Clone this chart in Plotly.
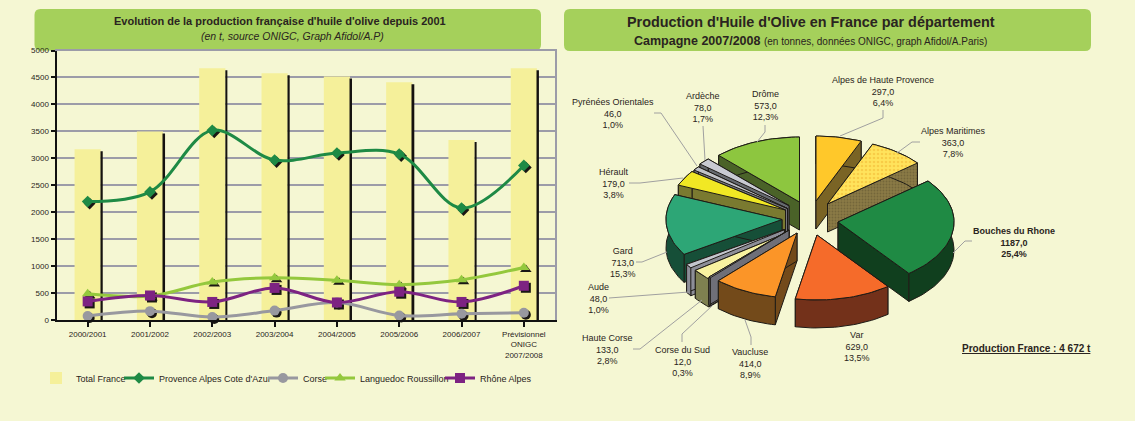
import math
import plotly.graph_objects as go

# ---------- data ----------
CATEGORIES = ["2000/2001", "2001/2002", "2002/2003", "2003/2004", "2004/2005", "2005/2006", "2006/2007",
              "Prévisionnel<br>ONIGC<br>2007/2008"]
TOTAL_FRANCE = [3170, 3500, 4670, 4580, 4520, 4410, 3340, 4670]
PACA = [2200, 2380, 3520, 2970, 3100, 3080, 2080, 2870]
CORSE = [80, 170, 60, 180, 330, 90, 120, 140]
LANGUEDOC = [490, 450, 710, 790, 740, 660, 750, 980]
RHONE_ALPES = [350, 460, 340, 600, 330, 530, 340, 640]

DEPTS = ["Alpes de Haute Provence", "Alpes Maritimes", "Bouches du Rhone", "Var", "Vaucluse", "Corse du Sud",
         "Haute Corse", "Aude", "Gard", "Hérault", "Pyrénées Orientales", "Ardèche", "Drôme"]
DEPT_VALUES = [297, 363, 1187, 629, 414, 12, 133, 48, 713, 179, 46, 78, 573]

# ---------- style / layout ----------
W, H = 1135, 421
BG = "#F5F7D3"
HEADER = "#A5D05B"
GRID = "#9C9CA8"
TXT = "#2A2420"
SANS = "Liberation Sans"

PLOT_L, PLOT_R, PLOT_T, PLOT_B = 56.5, 555, 50.5, 320.3
PX_X = (PLOT_R - PLOT_L) / 8
PX_Y = (PLOT_B - PLOT_T) / 5000
SX, SY = 2 / PX_X, 2 / PX_Y   # drop-shadow shift in data units

R, SQUASH, DEPTH = 116, 0.56, 28
TOP_COL = ["#FFC82A", "#FFE35C", "#1F8A44", "#F56B2A", "#FB9528", "#9A9AA5", "#F8F2A0", "#C4C6CE", "#2DA676",
           "#F1E824", "#C0C2C8", "#C8CAD2", "#8DC63F"]
WALL_COL = ["#7A6425", "#8A7A45", "#103F1E", "#73311A", "#734A1A", "#6F6F78", "#7E8050", "#8D8E98", "#164F38",
            "#7A7A30", "#77787E", "#666A70", "#4A6228"]
APEX = [(816, 201), (827.5, 204), (838, 222), (817, 235), (797, 233), (789, 230), (789, 232), (784.5, 229.5),
        (782, 219.5), (785.5, 210), (787.5, 208.5), (789, 205.6), (799.5, 202)]
DRAW_ORDER = [0, 1, 12, 11, 10, 9, 8, 7, 6, 5, 4, 3, 2]
LABEL_POS = [(883, 91), (953, 142), (1014, 242), (857, 346), (750, 363), (682, 361), (607, 349), (598, 298),
             (623, 262), (614, 183), (613, 113), (703, 107), (765, 105)]
LEADERS = [[(840, 136), (883, 118), (883, 110)], [(897, 153), (912, 142), (920, 142)],
           [(953, 253), (965, 241), (972, 241)], None, [(745, 320), (751, 337), (751, 345)],
           [(713, 305), (682, 334), (682, 342)], [(702, 300), (640, 349), (633, 349)],
           [(689, 292), (609, 298)], [(667, 252), (642, 262), (636, 262)],
           [(683, 178), (640, 183), (629, 183)], [(697, 166), (661, 113), (654, 113)],
           [(705, 160), (703, 126)], [(757, 142), (765, 132), (765, 125)]]

fig = go.Figure()
BX = dict(xaxis="x", yaxis="y")
SH = dict(xaxis="x2", yaxis="y2")
LN = dict(xaxis="x3", yaxis="y3")
XI = list(range(8))

# Bars
fig.add_trace(go.Bar(x=XI, y=TOTAL_FRANCE, width=0.42, marker=dict(color="#F5F09A", line_width=0),
                     name="Total France", legend="legend", **BX))
fig.add_trace(go.Bar(x=XI, y=TOTAL_FRANCE, width=0.032, offset=0.178, marker=dict(color="#15120F", line_width=0),
                     showlegend=False, hoverinfo="skip", **SH))

SERIES = [("Provence Alpes Cote d'Azur", PACA, "#1E8A45", "diamond", 9, "legend2"),
          ("Corse", CORSE, "#98989F", "circle", 10, "legend3"),
          ("Languedoc Roussillon", LANGUEDOC, "#94C83D", "triangle-up", 10, "legend4"),
          ("Rhône Alpes", RHONE_ALPES, "#7D2382", "square", 10, "legend5")]
for name, vals, col, sym, size, _ in SERIES:
    fig.add_trace(go.Scatter(x=XI, y=vals, mode="markers", marker=dict(symbol=sym, size=size, color="#1A1714"),
                             showlegend=False, hoverinfo="skip", cliponaxis=False, **SH))
for name, vals, col, sym, size, leg in SERIES:
    fig.add_trace(go.Scatter(x=XI, y=vals, mode="lines+markers", name=name, legend=leg, cliponaxis=False,
                             line=dict(color=col, width=3, shape="spline", smoothing=1.0),
                             marker=dict(symbol=sym, size=size, color=col), **LN))

# 3-D exploded pie, computed from the values
TOTAL = sum(DEPT_VALUES)
angles = [0.0]
for v in DEPT_VALUES:
    angles.append(angles[-1] + v / TOTAL * 360)


def rim(a, ang, down=0):
    t = math.radians(ang)
    return (a[0] + R * math.sin(t), a[1] - R * SQUASH * math.cos(t) + down)


PI = dict(xaxis="x4", yaxis="y4")


def poly(pts, fill, pattern=None, **kw):
    extra = dict(fillpattern=pattern) if pattern else {}
    fig.add_trace(go.Scatter(x=[p[0] for p in pts], y=[p[1] for p in pts], mode="lines", fill="toself",
                             fillcolor=fill, line=dict(color="#1E1B16", width=1), showlegend=False,
                             **extra, **kw, **PI))


for i in DRAW_ORDER:
    a = APEX[i]
    a1, a2 = angles[i], angles[i + 1]
    n = max(2, int((a2 - a1) / 2) + 2)
    arc = [a1 + (a2 - a1) * k / (n - 1) for k in range(n)]
    low = (a[0], a[1] + DEPTH)
    pat_w = dict(shape=".", fgcolor="#5E5230", bgcolor=WALL_COL[i], size=3, solidity=0.3) if i == 1 else None
    pat_t = dict(shape=".", fgcolor="#F2B632", bgcolor=TOP_COL[i], size=4, solidity=0.35) if i == 1 else None
    for t in (a1, a2):
        poly([a, rim(a, t), rim(a, t, DEPTH), low, a], WALL_COL[i], pat_w, hoverinfo="skip")
    poly([rim(a, t) for t in arc] + [rim(a, t, DEPTH) for t in reversed(arc)] + [rim(a, a1)], WALL_COL[i], pat_w,
         hoverinfo="skip")
    poly([a] + [rim(a, t) for t in arc] + [a], TOP_COL[i], pat_t, name=DEPTS[i], hoverinfo="name")

for pts in LEADERS:
    if pts:
        fig.add_trace(go.Scatter(x=[p[0] for p in pts], y=[p[1] for p in pts], mode="lines",
                                 line=dict(color="#A0A0A0", width=1), showlegend=False, hoverinfo="skip", **PI))

annotations = []
for name, v, (x, y) in zip(DEPTS, DEPT_VALUES, LABEL_POS):
    txt = f"{name}<br>{v:.1f}<br>{v / TOTAL * 100:.1f}%".replace(".", ",")
    if name == "Bouches du Rhone":
        txt = f"<b>{txt}</b>"
    annotations.append(dict(x=x, y=y, xref="x4", yref="y4", text=txt, showarrow=False, align="center",
                            font=dict(family=SANS, size=9, color=TXT)))
annotations.append(dict(x=1026, y=348, xref="x4", yref="y4", showarrow=False,
                        text="<b><u>Production France : 4 672 t</u></b>", font=dict(family=SANS, size=10, color=TXT)))
annotations += [
    dict(x=280, y=21, xref="x4", yref="y4", showarrow=False,
         text="<b>Evolution de la production française d'huile d'olive depuis 2001</b>",
         font=dict(family=SANS, size=11, color=TXT)),
    dict(x=292.5, y=36, xref="x4", yref="y4", showarrow=False, text="<i>(en t, source ONIGC, Graph Afidol/A.P)</i>",
         font=dict(family=SANS, size=10.5, color=TXT)),
    dict(x=811, y=22, xref="x4", yref="y4", showarrow=False,
         text="<b>Production d'Huile d'Olive en France par département</b>",
         font=dict(family=SANS, size=14.4, color=TXT)),
    dict(x=810.5, y=41, xref="x4", yref="y4", showarrow=False,
         text="<b>Campagne 2007/2008</b> <span style='font-size:10px'>(en tonnes, données ONIGC, graph Afidol/A.Paris)</span>",
         font=dict(family=SANS, size=12.5, color=TXT)),
]


def rounded(x0, y0, x1, y1, r=6):
    fx = lambda v: v / W
    fy = lambda v: 1 - v / H
    return (f"M {fx(x0 + r)} {fy(y0)} L {fx(x1 - r)} {fy(y0)} Q {fx(x1)} {fy(y0)} {fx(x1)} {fy(y0 + r)} "
            f"L {fx(x1)} {fy(y1 - r)} Q {fx(x1)} {fy(y1)} {fx(x1 - r)} {fy(y1)} "
            f"L {fx(x0 + r)} {fy(y1)} Q {fx(x0)} {fy(y1)} {fx(x0)} {fy(y1 - r)} "
            f"L {fx(x0)} {fy(y0 + r)} Q {fx(x0)} {fy(y0)} {fx(x0 + r)} {fy(y0)} Z")


shapes = [dict(type="path", xref="paper", yref="paper", path=rounded(34.5, 9, 541, 50.5), fillcolor=HEADER,
               line_width=0, layer="below"),
          dict(type="path", xref="paper", yref="paper", path=rounded(564, 9, 1091, 51), fillcolor=HEADER,
               line_width=0, layer="below")]

dom_x = [PLOT_L / W, PLOT_R / W]
dom_y = [1 - PLOT_B / H, 1 - PLOT_T / H]
XR = [-0.5, 7.5]
YR = [0, 5000]
TICK = dict(family=SANS, size=8, color=TXT)

leg = dict(orientation="v", xanchor="left", yanchor="middle", bgcolor="rgba(0,0,0,0)", borderwidth=0,
           font=dict(family=SANS, size=9, color=TXT), itemwidth=30, itemclick=False, itemdoubleclick=False)
LEG_Y = 1 - 378 / H
fig.update_layout(
    width=W, height=H, margin=dict(l=0, r=0, t=0, b=0, autoexpand=False), paper_bgcolor=BG,
    plot_bgcolor="rgba(0,0,0,0)",
    bargap=0.58, barmode="overlay", shapes=shapes, annotations=annotations, hovermode="closest",
    xaxis=dict(domain=dom_x, range=XR, tickmode="array", tickvals=XI, ticktext=CATEGORIES, tickson="boundaries",
               ticks="outside", ticklen=5, tickwidth=1.5, tickcolor="#111", showline=True, linecolor="#111", linewidth=2,
               showgrid=False, zeroline=False, tickfont=TICK, tickangle=0, anchor="y"),
    yaxis=dict(domain=dom_y, range=YR, tickmode="array", tickvals=list(range(0, 5001, 500)), ticks="outside", ticklen=4,
               tickwidth=1.5, tickcolor="#111", showline=True, linecolor="#111", linewidth=2, showgrid=True,
               gridcolor=GRID, gridwidth=1.5, zeroline=False, tickfont=TICK, anchor="x"),
    xaxis2=dict(domain=dom_x, range=[XR[0] - SX, XR[1] - SX], visible=False, anchor="y2", overlaying="x"),
    yaxis2=dict(domain=dom_y, range=[YR[0] + SY, YR[1] + SY], visible=False, anchor="x2", overlaying="y"),
    xaxis3=dict(domain=dom_x, range=XR, anchor="y3", overlaying="x", side="top", showline=True, linecolor=GRID, linewidth=1.5,
                showticklabels=False, ticks="", showgrid=False, zeroline=False),
    yaxis3=dict(domain=dom_y, range=YR, anchor="x3", overlaying="y", side="right", showline=True, linecolor=GRID, linewidth=1.5,
                showticklabels=False, ticks="", showgrid=False, zeroline=False),
    xaxis4=dict(domain=[0, 1], range=[0, W], visible=False, anchor="y4"),
    yaxis4=dict(domain=[0, 1], range=[H, 0], visible=False, anchor="x4"),
    legend=dict(leg, x=36 / W, y=LEG_Y),
    legend2=dict(leg, x=119 / W, y=LEG_Y),
    legend3=dict(leg, x=263 / W, y=LEG_Y),
    legend4=dict(leg, x=320 / W, y=LEG_Y),
    legend5=dict(leg, x=440 / W, y=LEG_Y),
)
fig.write_html("out.html", post_script="document.body.style.margin='0';", config=dict(displayModeBar=False))
